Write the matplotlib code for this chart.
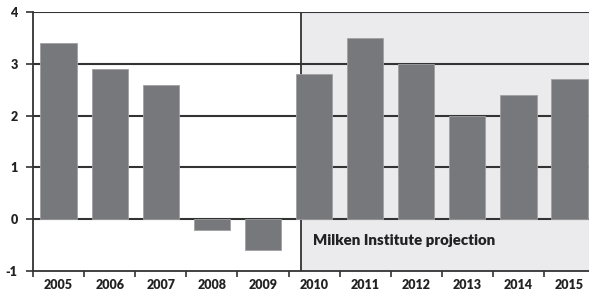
import matplotlib
matplotlib.use("Agg")
import matplotlib.pyplot as plt
import numpy as np

years = ["2005", "2006", "2007", "2008", "2009", "2010", "2011", "2012", "2013", "2014", "2015"]
values = [3.4, 2.9, 2.6, -0.2, -0.6, 2.8, 3.5, 3.0, 2.0, 2.4, 2.7]
yticks = [-1, 0, 1, 2, 3, 4]
note = "Milken Institute projection"

plt.rcParams['font.family'] = ['Lato', 'DejaVu Sans']

W, H = 589, 293
fig = plt.figure(figsize=(W/100, H/100), dpi=100)
step = 51.1
right_px = 33 + 11 * step
ax = fig.add_axes([33/W, 22/H, (right_px-33)/W, 259/H])

x = np.arange(len(years))
xr = -0.5 + len(years)
ax.set_xlim(-0.5, xr)
ax.set_ylim(-1, 4)

ax.axvspan(4.75, xr, color="#ebebee", zorder=0, lw=0)
ax.axvline(4.75, color="#333333", lw=1.3, zorder=1)
for yv in [0, 1, 2, 3, 4]:
    ax.axhline(yv, color="#333333", lw=1.5, zorder=1)

ax.bar(x, values, width=0.71, color="#77787b", edgecolor="#a0a0a3", linewidth=0.6, zorder=2)

ax.text(4.98, -0.42, note, fontsize=10.8, fontweight="heavy", color="#222222",
        ha="left", va="center", zorder=3)

for s in ["top", "right"]:
    ax.spines[s].set_visible(False)
for s in ["left", "bottom"]:
    ax.spines[s].set_color("#333333")
    ax.spines[s].set_linewidth(1.3)

ax.set_yticks(yticks)
ax.set_yticklabels([str(v) for v in yticks], fontsize=9, fontweight="heavy", color="#222222")
ax.tick_params(axis="y", direction="out", length=5, width=1.2, color="#333333", pad=6)

ax.set_xticks(x)
ax.set_xticklabels(years, fontsize=9, fontweight="heavy", color="#222222")
ax.set_xticks(np.arange(len(years) + 1) - 0.5, minor=True)
ax.tick_params(axis="x", which="major", length=0, pad=6)
ax.tick_params(axis="x", which="minor", direction="out", length=4, width=1.2, color="#333333")

fig.savefig("out.png", dpi=100)
